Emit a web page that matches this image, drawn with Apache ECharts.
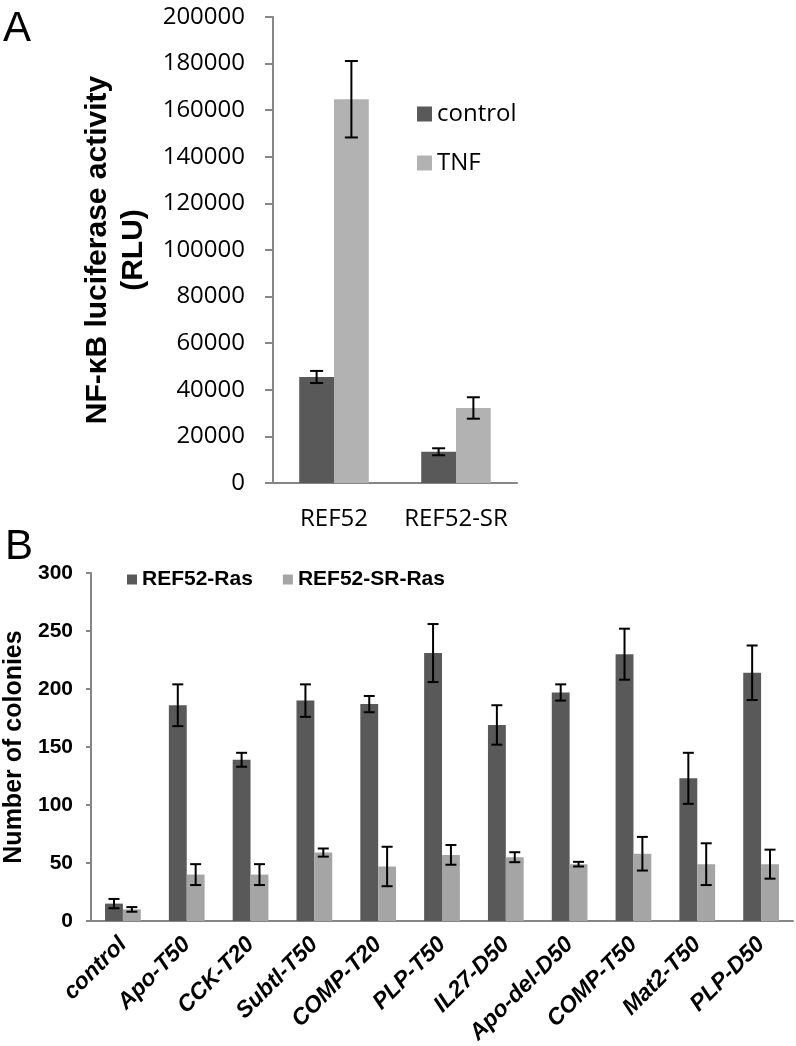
<!DOCTYPE html>
<html>
<head>
<meta charset="utf-8">
<script src="https://cdn.jsdelivr.net/npm/echarts@6/dist/echarts.min.js"></script>
<style>
html,body{margin:0;padding:0;background:#fff;}
#c{width:796px;height:1046px;}
</style>
</head>
<body>
<div id="c"></div>
<script>
// Panel A data
const catsA = ['REF52', 'REF52-SR'];
const controlA = [45500, 13400];
const controlAErr = [2600, 1500];
const tnfA = [164700, 32200];
const tnfAErr = [16400, 4600];

// Panel B data
const catsB = ['control','Apo-T50','CCK-T20','Subtl-T50','COMP-T20','PLP-T50','IL27-D50','Apo-del-D50','COMP-T50','Mat2-T50','PLP-D50'];
const rasB = [15, 186, 139, 190, 187, 231, 169, 197, 230, 123, 214];
const rasBErr = [4, 18, 6, 14, 7, 25, 17, 7, 22, 22, 23.5];
const srRasB = [10, 40, 40, 59, 47, 57, 55, 49, 58, 49, 49];
const srRasBErr = [2, 9, 9, 3.5, 17, 8.5, 4.3, 2, 14.5, 18, 12.5];

const DARK = '#595959';
const LIGHT_A = '#b2b2b2';
const LIGHT_B = '#a5a5a5';
const AXIS = '#868686';

function errSeries(name, xIdx, yIdx, vals, errs, side, gapFrac, cap) {
  return {
    type: 'custom', name: name, xAxisIndex: xIdx, yAxisIndex: yIdx, z: 10,
    silent: true,
    data: vals.map((v, i) => [i, v, errs[i]]),
    renderItem: function (params, api) {
      const i = api.value(0), v = api.value(1), e = api.value(2);
      const band = api.size([1, 0])[0];
      const bw = band * (1 - gapFrac) / 2;
      const c = api.coord([i, v]);
      const x = c[0] + side * bw / 2;
      const yt = api.coord([i, v + e])[1];
      const yb = api.coord([i, v - e])[1];
      const st = { stroke: '#000', lineWidth: 2 };
      return { type: 'group', children: [
        { type: 'line', shape: { x1: x, y1: yt, x2: x, y2: yb }, style: st },
        { type: 'line', shape: { x1: x - cap, y1: yt, x2: x + cap, y2: yt }, style: st },
        { type: 'line', shape: { x1: x - cap, y1: yb, x2: x + cap, y2: yb }, style: st }
      ]};
    }
  };
}

const chart = echarts.init(document.getElementById('c'), null, { renderer: 'canvas' });
const option = {
  animation: false,
  backgroundColor: '#fff',
  grid: [
    { left: 273, right: 279, top: 17, bottom: 563, containLabel: false, outerBoundsMode: 'none' },
    { left: 91, right: 3, top: 573, bottom: 125, containLabel: false, outerBoundsMode: 'none' }
  ],
  legend: [
    {
      data: ['control', 'TNF'], orient: 'vertical', left: 412, top: 97,
      itemWidth: 15, itemHeight: 15, itemGap: 25, icon: 'rect',
      textStyle: { fontFamily: 'Open Sans', fontSize: 24, color: '#000' }
    },
    {
      data: ['REF52-Ras', 'REF52-SR-Ras'], orient: 'horizontal', left: 122, top: 564,
      itemWidth: 10, itemHeight: 10, itemGap: 30, icon: 'rect',
      textStyle: { fontFamily: 'Liberation Sans', fontWeight: 'bold', fontSize: 21, color: '#000' }
    }
  ],
  xAxis: [
    {
      type: 'category', gridIndex: 0, data: catsA,
      axisLine: { lineStyle: { color: AXIS, width: 2 } },
      axisTick: { length: 8, lineStyle: { color: AXIS, width: 2 } },
      axisLabel: { fontFamily: 'Open Sans', fontSize: 24, color: '#000', margin: 24, interval: 0 }
    },
    {
      type: 'category', gridIndex: 1, data: catsB,
      axisLine: { lineStyle: { color: AXIS, width: 2 } },
      axisTick: { length: 6, lineStyle: { color: AXIS, width: 2 } },
      axisLabel: { fontFamily: 'Liberation Sans', fontWeight: 'bold', fontStyle: 'italic', fontSize: 23, color: '#000', rotate: 45, margin: 20, interval: 0 }
    }
  ],
  yAxis: [
    {
      type: 'value', gridIndex: 0, min: 0, max: 200000, interval: 20000,
      splitLine: { show: false },
      axisLine: { show: true, lineStyle: { color: AXIS, width: 2 } },
      axisTick: { show: true, length: 8, lineStyle: { color: AXIS, width: 2 } },
      axisLabel: { fontFamily: 'Open Sans', fontSize: 24, color: '#000', margin: 28, formatter: v => String(v) },
      name: 'NF-κB luciferase activity\n(RLU)', nameLocation: 'middle', nameRotate: 90, nameGap: 121,
      nameTextStyle: { fontFamily: 'Liberation Sans', fontWeight: 'bold', fontSize: 30, color: '#000', lineHeight: 36 }
    },
    {
      type: 'value', gridIndex: 1, min: 0, max: 300, interval: 50,
      splitLine: { show: false },
      axisLine: { show: true, lineStyle: { color: AXIS, width: 2 } },
      axisTick: { show: true, length: 5, lineStyle: { color: AXIS, width: 2 } },
      axisLabel: { fontFamily: 'Liberation Sans', fontWeight: 'bold', fontSize: 21, color: '#000', margin: 18 },
      name: 'Number of colonies', nameLocation: 'middle', nameRotate: 90, nameGap: 63,
      nameTextStyle: { fontFamily: 'Liberation Sans', fontWeight: 'bold', fontSize: 25, color: '#000' }
    }
  ],
  graphic: [
    { type: 'text', left: 3, top: 8, style: { text: 'A', fontFamily: 'Liberation Sans', fontSize: 42, fill: '#000' } },
    { type: 'text', left: 5, top: 526, style: { text: 'B', fontFamily: 'Liberation Sans', fontSize: 42, fill: '#000' } }
  ],
  series: [
    { type: 'bar', name: 'control', xAxisIndex: 0, yAxisIndex: 0, data: controlA, itemStyle: { color: DARK }, barGap: '0%', barCategoryGap: '43%' },
    { type: 'bar', name: 'TNF', xAxisIndex: 0, yAxisIndex: 0, data: tnfA, itemStyle: { color: LIGHT_A }, barGap: '0%', barCategoryGap: '43%' },
    errSeries('errA0', 0, 0, controlA, controlAErr, -1, 0.43, 6.5),
    errSeries('errA1', 0, 0, tnfA, tnfAErr, 1, 0.43, 6.5),
    { type: 'bar', name: 'REF52-Ras', xAxisIndex: 1, yAxisIndex: 1, data: rasB, itemStyle: { color: DARK }, barGap: '0%', barCategoryGap: '44%' },
    { type: 'bar', name: 'REF52-SR-Ras', xAxisIndex: 1, yAxisIndex: 1, data: srRasB, itemStyle: { color: LIGHT_B }, barGap: '0%', barCategoryGap: '44%' },
    errSeries('errB0', 1, 1, rasB, rasBErr, -1, 0.44, 5.5),
    errSeries('errB1', 1, 1, srRasB, srRasBErr, 1, 0.44, 5.5)
  ]
};
chart.setOption(option);
</script>
</body>
</html>
